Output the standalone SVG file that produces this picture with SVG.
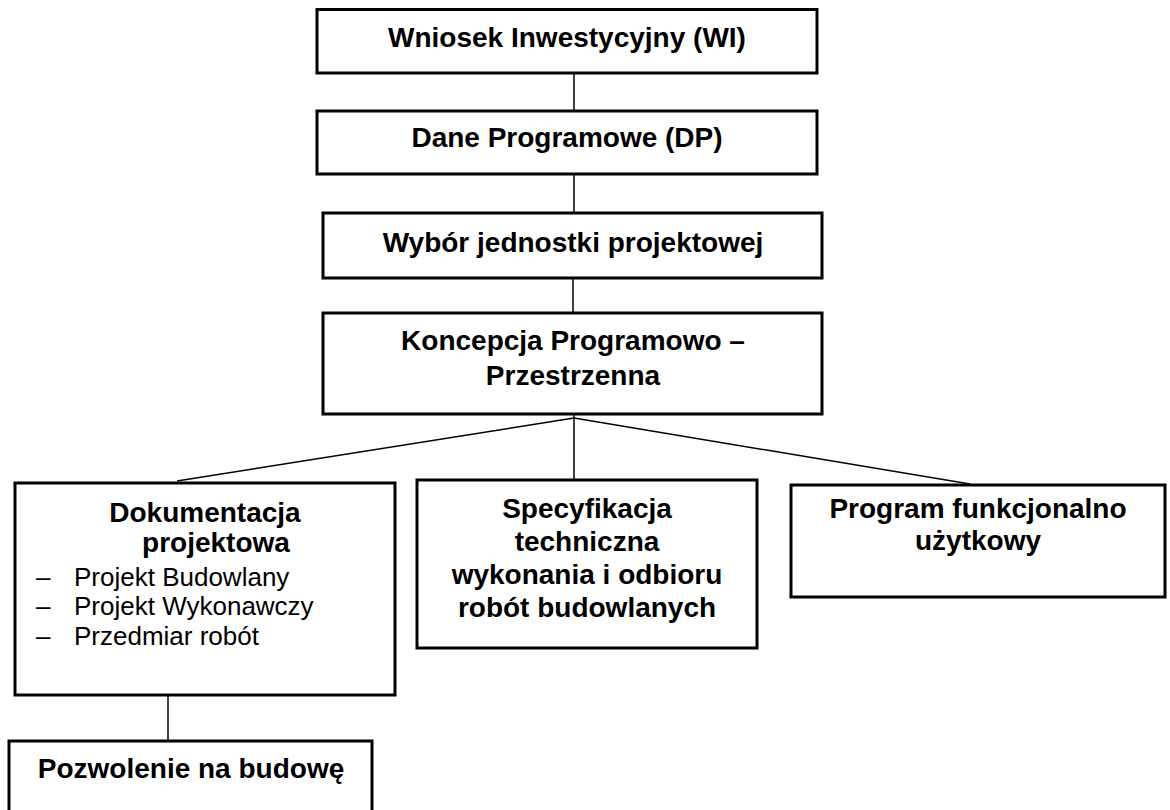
<svg xmlns="http://www.w3.org/2000/svg" width="1170" height="810" viewBox="0 0 1170 810">
<style>
.box{fill:#fff;stroke:#000;stroke-width:3}
.t{font-family:"Liberation Sans",Arial,sans-serif;font-weight:bold;font-size:28px;text-anchor:middle;fill:#000}
.r{font-family:"Liberation Sans",Arial,sans-serif;font-size:26px;fill:#000}
.c{stroke:#000;stroke-width:1.5;fill:none}
</style>
<rect width="1170" height="810" fill="#fff"/>
<g id="connectors">
<line class="c" x1="574" y1="73" x2="574" y2="111"/>
<line class="c" x1="574" y1="174" x2="574" y2="213"/>
<line class="c" x1="573" y1="278" x2="573" y2="313"/>
<line class="c" x1="574" y1="414" x2="574" y2="480"/>
<line class="c" x1="574" y1="418" x2="177" y2="481"/>
<line class="c" x1="574" y1="418" x2="970" y2="484"/>
<line class="c" x1="168" y1="695" x2="168" y2="741"/>
</g>
<g id="wniosek">
<rect class="box" x="317" y="9.5" width="500" height="63.5"/>
<text class="t" x="567" y="47">Wniosek Inwestycyjny (WI)</text>
</g>
<g id="dane">
<rect class="box" x="317" y="111" width="500" height="63"/>
<text class="t" x="567" y="147">Dane Programowe (DP)</text>
</g>
<g id="wybor">
<rect class="box" x="323" y="213" width="499" height="65"/>
<text class="t" x="573" y="252">Wybór jednostki projektowej</text>
</g>
<g id="koncepcja">
<rect class="box" x="323" y="313" width="499" height="101"/>
<text class="t" x="573" y="350">Koncepcja Programowo –</text>
<text class="t" x="573" y="385">Przestrzenna</text>
</g>
<g id="dokumentacja">
<rect class="box" x="15" y="483" width="380" height="212"/>
<text class="t" x="205" y="522">Dokumentacja</text>
<text class="t" x="216" y="552">projektowa</text>
<text class="r" x="36" y="586">–</text>
<text class="r" x="74" y="586">Projekt Budowlany</text>
<text class="r" x="36" y="615">–</text>
<text class="r" x="74" y="615">Projekt Wykonawczy</text>
<text class="r" x="36" y="645">–</text>
<text class="r" x="74" y="645">Przedmiar robót</text>
</g>
<g id="specyfikacja">
<rect class="box" x="417" y="480" width="340" height="168"/>
<text class="t" x="587" y="518">Specyfikacja</text>
<text class="t" x="587" y="551">techniczna</text>
<text class="t" x="587" y="584">wykonania i odbioru</text>
<text class="t" x="587" y="617">robót budowlanych</text>
</g>
<g id="program">
<rect class="box" x="791" y="485" width="374" height="112"/>
<text class="t" x="978" y="518">Program funkcjonalno</text>
<text class="t" x="978" y="550">użytkowy</text>
</g>
<g id="pozwolenie">
<rect class="box" x="9" y="741" width="363" height="90"/>
<text class="t" x="191" y="778">Pozwolenie na budowę</text>
</g>
</svg>
